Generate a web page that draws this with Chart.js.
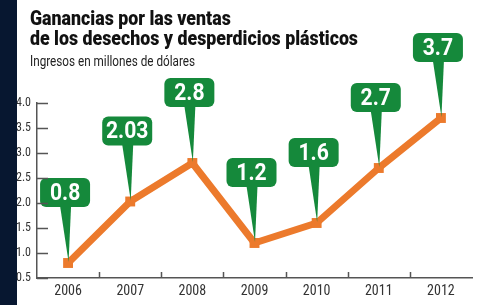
<!DOCTYPE html>
<html>
<head>
<meta charset="utf-8">
<script src="https://cdn.jsdelivr.net/npm/chart.js@4.4.1/dist/chart.umd.min.js"></script>
<style>
html, body { margin: 0; padding: 0; background: #fff; }
#wrap { position: relative; width: 479px; height: 305px; overflow: hidden; }
#band { position: absolute; left: 0; top: 0; width: 17px; height: 305px; background: #071730; z-index: 2; }
.t { position: absolute; left: 30px; white-space: nowrap; transform-origin: 0 0; }
#title { top: 8px; font: 900 21px/20px Roboto, sans-serif; color: #111; }
#sub { top: 53px; font: 400 14px/16px Roboto, sans-serif; color: #222; }
canvas { position: absolute; left: 0; top: 0; }
</style>
</head>
<body>
<div id="wrap">
	<canvas id="chart" width="479" height="305"></canvas>
	<div id="band"></div>
	<div class="t" id="title">Ganancias por las ventas<br>de los desechos y desperdicios plásticos</div>
	<div class="t" id="sub">Ingresos en millones de dólares</div>
</div>
<script>
var years = ["2006", "2007", "2008", "2009", "2010", "2011", "2012"];
var values = [0.8, 2.03, 2.8, 1.2, 1.6, 2.7, 3.7];
var valueLabels = ["0.8", "2.03", "2.8", "1.2", "1.6", "2.7", "3.7"];
var yTicks = [0.5, 1.0, 1.5, 2.0, 2.5, 3.0, 3.5, 4.0];

var narrow = "'Liberation Sans Narrow', 'Roboto Condensed', Roboto, sans-serif";

// squeeze the heading lines to the width of the original condensed type
function fit(id, target) {
	var el = document.getElementById(id);
	var w = el.getBoundingClientRect().width;
	el.style.transform = "scaleX(" + (target / w) + ")";
}
fit("title", 328);
fit("sub", 165);

// short ticks drawn inward from the axes
var innerTicks = {
	id: "innerTicks",
	afterDraw: function(chart) {
		var ctx = chart.ctx;
		var area = chart.chartArea;
		var xs = chart.scales.x, ys = chart.scales.y;
		ctx.save();
		ctx.strokeStyle = "#555";
		ctx.lineWidth = 1.5;
		ctx.beginPath();
		yTicks.forEach(function(v) {
			var y = Math.round(ys.getPixelForValue(v)) + 0.5;
			ctx.moveTo(area.left, y);
			ctx.lineTo(area.left + 11, y);
		});
		for (var i = 1; i < years.length; i++) {
			var x = Math.round((xs.getPixelForValue(i - 1) + xs.getPixelForValue(i)) / 2) + 0.5;
			ctx.moveTo(x, area.bottom);
			ctx.lineTo(x, area.bottom - 6);
		}
		ctx.stroke();
		ctx.restore();
	}
};

// green value callouts pointing at each point
var callouts = {
	id: "callouts",
	afterDatasetsDraw: function(chart) {
		var ctx = chart.ctx;
		var pts = chart.getDatasetMeta(0).data;
		ctx.save();
		pts.forEach(function(p, i) {
			var w = 50, h = 29;
			var cx = p.x - 3;
			var bottom = p.y - 56;
			var top = bottom - h;
			ctx.fillStyle = "#15893b";
			ctx.beginPath();
			ctx.moveTo(cx - 5, bottom - 1);
			ctx.lineTo(cx + 6, bottom - 1);
			ctx.lineTo(p.x + 0.5, p.y - 1);
			ctx.closePath();
			ctx.fill();
			ctx.beginPath();
			ctx.roundRect(cx - w / 2, top, w, h, 6);
			ctx.fill();
			ctx.fillStyle = "#fff";
			ctx.font = "700 24px Roboto, sans-serif";
			ctx.textAlign = "center";
			ctx.textBaseline = "middle";
			var tw = ctx.measureText(valueLabels[i]).width * 0.88;
			ctx.fillText(valueLabels[i], cx, top + h / 2 + 1, tw);
		});
		ctx.restore();
	}
};

var ctx = document.getElementById("chart");

var chart = new Chart(ctx, {
	type: "line",
	data: {
		labels: years,
		datasets: [
			{
				data: values,
				borderColor: "#ec7a2c",
				backgroundColor: "#ec7a2c",
				borderWidth: 7,
				borderJoinStyle: "bevel",
				tension: 0,
				fill: false,
				pointStyle: "rect",
				pointRadius: 7,
				pointBorderWidth: 0,
				pointBackgroundColor: "#ec7a2c"
			}
		]
	},
	options: {
		responsive: false,
		animation: false,
		devicePixelRatio: 1,
		layout: { padding: { left: 17, right: 3, top: 103, bottom: 0 } },
		plugins: {
			legend: { display: false },
			tooltip: { enabled: false }
		},
		scales: {
			x: {
				offset: true,
				grid: { display: false, drawTicks: false },
				border: { display: true, color: "#555", width: 1.5 },
				ticks: { padding: 5, color: "#333", maxRotation: 0, font: { family: narrow, size: 14 } },
				afterFit: function(s) { s.height = 27; }
			},
			y: {
				min: 0.5,
				max: 4.0,
				grid: { display: false, drawTicks: false },
				border: { display: true, color: "#555", width: 1.5 },
				ticks: {
					stepSize: 0.5,
					padding: 6,
					color: "#333",
					font: { family: narrow, size: 12 },
					callback: function(v) { return v.toFixed(1); }
				},
				afterFit: function(s) { s.width = 20; }
			}
		}
	},
	plugins: [innerTicks, callouts]
});
</script>
</body>
</html>
